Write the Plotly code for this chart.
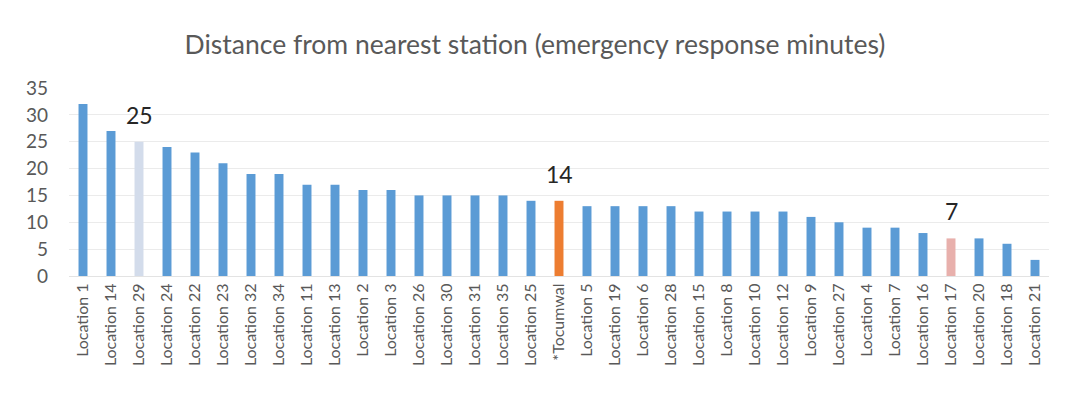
import plotly.graph_objects as go

categories = ["Location 1", "Location 14", "Location 29", "Location 24", "Location 22", "Location 23",
              "Location 32", "Location 34", "Location 11", "Location 13", "Location 2", "Location 3",
              "Location 26", "Location 30", "Location 31", "Location 35", "Location 25", "*Tocumwal",
              "Location 5", "Location 19", "Location 6", "Location 28", "Location 15", "Location 8",
              "Location 10", "Location 12", "Location 9", "Location 27", "Location 4", "Location 7",
              "Location 16", "Location 17", "Location 20", "Location 18", "Location 21"]
values = [32, 27, 25, 24, 23, 21, 19, 19, 17, 17, 16, 16, 15, 15, 15, 15, 14, 14,
          13, 13, 13, 13, 12, 12, 12, 12, 11, 10, 9, 9, 8, 7, 7, 6, 3]
highlights = {"Location 29": "#D3DCEB", "*Tocumwal": "#ED7D31", "Location 17": "#E8B0AC"}
labelled = ["Location 29", "*Tocumwal", "Location 17"]

base_color = "#5B9BD5"
colors = [highlights.get(c, base_color) for c in categories]

FONT = "Lato, 'Open Sans', sans-serif"

fig = go.Figure(go.Bar(x=categories, y=values, marker=dict(color=colors, line=dict(width=0))))

for c in labelled:
    v = values[categories.index(c)]
    fig.add_annotation(x=c, y=v, text=str(v), showarrow=False, yanchor="bottom", yshift=11,
                       font=dict(family=FONT, size=23, color="#262626"))

fig.update_layout(
    width=1070, height=402,
    margin=dict(l=69, r=21, t=88, b=126),
    paper_bgcolor="white", plot_bgcolor="white",
    bargap=0.68,
    showlegend=False,
    title=dict(text="Distance from nearest station (emergency response minutes)",
               x=0.5, xanchor="center", y=0.888, yanchor="middle",
               font=dict(family=FONT, size=26.5, color="#595959")),
    font=dict(family=FONT, color="#595959"),
)
fig.update_xaxes(tickangle=-90, tickfont=dict(size=16, color="#595959"), showgrid=False,
                 showline=True, linecolor="#E3E3E3", ticks="")
fig.update_yaxes(range=[0, 35], dtick=5, tickfont=dict(size=19, color="#595959"),
                 gridcolor="#EBEBEB", zeroline=False, showline=False, ticks="", ticklabelstandoff=20)

fig.write_html("out.html")
